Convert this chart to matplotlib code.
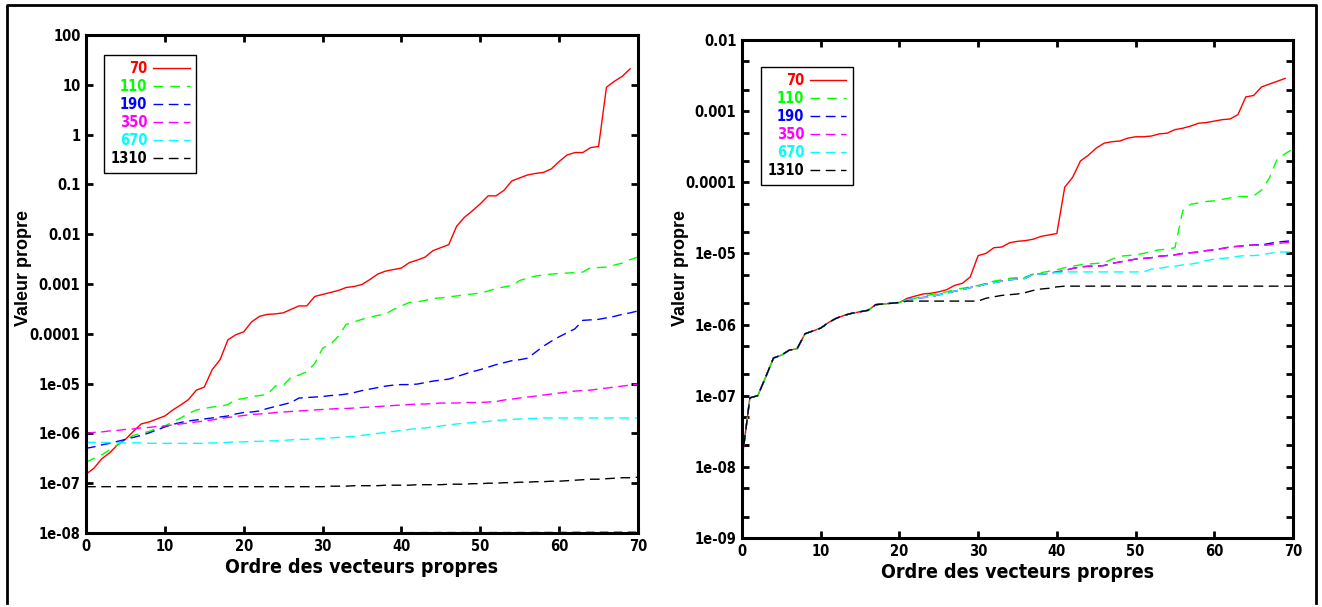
#!/usr/bin/env python3
"""Valeurs propres (échelle log) pour plusieurs tailles, deux panneaux."""

import numpy as np
import matplotlib
matplotlib.use('Agg')
import matplotlib.pyplot as plt
from matplotlib.ticker import LogLocator, NullLocator, FuncFormatter, MultipleLocator
from matplotlib.lines import Line2D
from matplotlib import font_manager

# --- données : log10 de la valeur propre ---
labels = ['70', '110', '190', '350', '670', '1310']
colors = ['#ff0000', '#00ff00', '#0000ff', '#ff00ff', '#00ffff', '#000000']

# panneau gauche
red_left = [-6.82, -6.70, -6.51, -6.39, -6.23, -6.12, -5.96, -5.81, -5.77, -5.71,
            -5.65, -5.53, -5.43, -5.32, -5.13, -5.07, -4.72, -4.52, -4.12, -4.02,
            -3.96, -3.76, -3.65, -3.61, -3.60, -3.58, -3.51, -3.44, -3.44, -3.25,
            -3.21, -3.17, -3.13, -3.07, -3.05, -3.01, -2.91, -2.80, -2.74, -2.71,
            -2.68, -2.57, -2.52, -2.46, -2.33, -2.27, -2.21, -1.84, -1.66, -1.53,
            -1.39, -1.23, -1.23, -1.12, -0.93, -0.87, -0.81, -0.78, -0.76, -0.69,
            -0.54, -0.41, -0.36, -0.36, -0.26, -0.24, 0.95, 1.07, 1.17, 1.32]
green_left = [-6.58, -6.50, -6.43, -6.33, -6.23, -6.13, -6.04, -6.00, -5.96, -5.90,
              -5.85, -5.77, -5.69, -5.60, -5.53, -5.50, -5.47, -5.46, -5.42, -5.32,
              -5.30, -5.26, -5.24, -5.22, -5.05, -5.04, -4.87, -4.83, -4.76, -4.60,
              -4.29, -4.21, -4.05, -3.81, -3.76, -3.71, -3.67, -3.63, -3.60, -3.51,
              -3.44, -3.37, -3.36, -3.33, -3.29, -3.28, -3.26, -3.24, -3.22, -3.20,
              -3.18, -3.14, -3.09, -3.06, -3.03, -2.93, -2.88, -2.84, -2.82, -2.80,
              -2.79, -2.78, -2.77, -2.76, -2.67, -2.67, -2.66, -2.62, -2.58, -2.51,
              -2.46]
blue_left = [-6.30, -6.27, -6.23, -6.20, -6.16, -6.12, -6.08, -6.04, -5.99, -5.93,
             -5.87, -5.82, -5.78, -5.75, -5.73, -5.71, -5.69, -5.67, -5.65, -5.61,
             -5.58, -5.57, -5.55, -5.50, -5.46, -5.42, -5.38, -5.29, -5.28, -5.27,
             -5.26, -5.24, -5.23, -5.21, -5.18, -5.14, -5.11, -5.08, -5.05, -5.03,
             -5.02, -5.02, -5.01, -4.98, -4.95, -4.93, -4.91, -4.86, -4.81, -4.76,
             -4.72, -4.67, -4.62, -4.58, -4.54, -4.52, -4.49, -4.37, -4.25, -4.15,
             -4.06, -3.98, -3.90, -3.73, -3.72, -3.71, -3.68, -3.65, -3.61, -3.58,
             -3.54]
magenta_left = [-6.00, -5.98, -5.97, -5.95, -5.94, -5.92, -5.91, -5.89, -5.88, -5.86,
                -5.85, -5.83, -5.81, -5.79, -5.77, -5.75, -5.73, -5.70, -5.68, -5.66,
                -5.64, -5.62, -5.61, -5.60, -5.58, -5.57, -5.56, -5.55, -5.54, -5.53,
                -5.52, -5.51, -5.50, -5.50, -5.49, -5.48, -5.47, -5.46, -5.45, -5.44,
                -5.43, -5.42, -5.41, -5.41, -5.40, -5.39, -5.39, -5.39, -5.38, -5.38,
                -5.38, -5.37, -5.36, -5.33, -5.31, -5.29, -5.27, -5.25, -5.23, -5.21,
                -5.19, -5.17, -5.15, -5.14, -5.13, -5.11, -5.09, -5.07, -5.05, -5.03,
                -5.01]
cyan_left = [-6.18, -6.18, -6.18, -6.19, -6.19, -6.19, -6.19, -6.19, -6.20, -6.20,
             -6.20, -6.20, -6.20, -6.20, -6.20, -6.20, -6.19, -6.19, -6.18, -6.17,
             -6.17, -6.16, -6.16, -6.15, -6.15, -6.14, -6.13, -6.12, -6.12, -6.11,
             -6.10, -6.09, -6.08, -6.07, -6.06, -6.04, -6.02, -6.00, -5.98, -5.96,
             -5.94, -5.92, -5.90, -5.89, -5.87, -5.85, -5.83, -5.81, -5.80, -5.78,
             -5.77, -5.76, -5.74, -5.73, -5.72, -5.71, -5.70, -5.70, -5.69, -5.69,
             -5.69, -5.69, -5.69, -5.69, -5.69, -5.69, -5.69, -5.69, -5.69, -5.69,
             -5.69]
black_left = [-7.07, -7.07, -7.07, -7.07, -7.07, -7.07, -7.07, -7.07, -7.07, -7.07,
              -7.07, -7.07, -7.07, -7.07, -7.07, -7.07, -7.07, -7.07, -7.07, -7.07,
              -7.07, -7.07, -7.07, -7.07, -7.07, -7.07, -7.07, -7.07, -7.07, -7.07,
              -7.07, -7.06, -7.06, -7.06, -7.05, -7.05, -7.05, -7.05, -7.04, -7.04,
              -7.04, -7.04, -7.03, -7.03, -7.03, -7.03, -7.02, -7.02, -7.02, -7.01,
              -7.01, -7.00, -7.00, -6.99, -6.99, -6.98, -6.98, -6.97, -6.97, -6.96,
              -6.96, -6.95, -6.94, -6.93, -6.92, -6.92, -6.91, -6.90, -6.89, -6.89,
              -6.88]
# trait gris au ras de l'axe du bas (sans légende)
grey_left_x = [37, 45, 55, 62, 70]
grey_left = [-7.995, -7.99, -7.99, -7.985, -7.98]

# panneau droit : début commun à toutes les courbes (x = 0..20)
common_right = [-7.90, -7.03, -7.00, -6.74, -6.47, -6.43, -6.36, -6.34, -6.13, -6.09,
                -6.05, -5.97, -5.91, -5.87, -5.84, -5.82, -5.80, -5.72, -5.71, -5.70,
                -5.69]
red_right = [-5.63, -5.60, -5.57, -5.56, -5.54, -5.51, -5.45, -5.42, -5.33, -5.03,
             -5.00, -4.92, -4.91, -4.85, -4.83, -4.82, -4.80, -4.76, -4.74, -4.72,
             -4.07, -3.93, -3.70, -3.62, -3.52, -3.45, -3.43, -3.42, -3.38, -3.36,
             -3.36, -3.35, -3.32, -3.31, -3.26, -3.24, -3.21, -3.17, -3.16, -3.14,
             -3.12, -3.11, -3.05, -2.80, -2.78, -2.66, -2.62, -2.58, -2.54]
green_right = [-5.65, -5.63, -5.60, -5.58, -5.56, -5.54, -5.51, -5.49, -5.47, -5.45,
               -5.42, -5.39, -5.37, -5.35, -5.34, -5.33, -5.29, -5.27, -5.25, -5.23,
               -5.20, -5.18, -5.16, -5.15, -5.14, -5.13, -5.08, -5.04, -5.03, -5.02,
               -5.00, -4.97, -4.95, -4.94, -4.92, -4.40, -4.31, -4.29, -4.27, -4.26,
               -4.24, -4.22, -4.20, -4.20, -4.19, -4.11, -3.94, -3.67, -3.60, -3.53]
blue_right = [-5.65, -5.63, -5.62, -5.61, -5.58, -5.56, -5.53, -5.51, -5.48, -5.46,
              -5.43, -5.41, -5.39, -5.37, -5.36, -5.35, -5.29, -5.29, -5.28, -5.26,
              -5.24, -5.21, -5.19, -5.18, -5.18, -5.17, -5.14, -5.12, -5.10, -5.08,
              -5.07, -5.06, -5.04, -5.03, -5.02, -5.00, -4.99, -4.98, -4.96, -4.95,
              -4.93, -4.91, -4.90, -4.89, -4.88, -4.88, -4.86, -4.84, -4.83, -4.82]
magenta_right = [-5.65, -5.63, -5.62, -5.61, -5.58, -5.56, -5.53, -5.51, -5.48, -5.46,
                 -5.43, -5.41, -5.39, -5.37, -5.36, -5.35, -5.29, -5.29, -5.28, -5.26,
                 -5.24, -5.21, -5.19, -5.18, -5.18, -5.17, -5.14, -5.12, -5.10, -5.08,
                 -5.07, -5.06, -5.04, -5.03, -5.02, -5.00, -4.99, -4.98, -4.96, -4.95,
                 -4.93, -4.91, -4.90, -4.89, -4.88, -4.89, -4.88, -4.86, -4.85, -4.84]
cyan_right = [-5.65, -5.63, -5.62, -5.61, -5.58, -5.56, -5.53, -5.51, -5.48, -5.46,
              -5.43, -5.41, -5.39, -5.37, -5.36, -5.35, -5.29, -5.29, -5.28, -5.27,
              -5.26, -5.26, -5.26, -5.26, -5.26, -5.26, -5.26, -5.26, -5.26, -5.26,
              -5.26, -5.22, -5.21, -5.19, -5.18, -5.16, -5.15, -5.13, -5.10, -5.08,
              -5.07, -5.06, -5.04, -5.03, -5.03, -5.02, -5.00, -4.98, -4.98, -4.98]
black_right = [-5.67, -5.67, -5.67, -5.67, -5.67, -5.67, -5.67, -5.67, -5.67, -5.67,
               -5.63, -5.61, -5.59, -5.58, -5.57, -5.55, -5.52, -5.50, -5.49, -5.47,
               -5.46, -5.46, -5.46, -5.46, -5.46, -5.46, -5.46, -5.46, -5.46, -5.46,
               -5.46, -5.46, -5.46, -5.46, -5.46, -5.46, -5.46, -5.46, -5.46, -5.46,
               -5.46, -5.46, -5.46, -5.46, -5.46, -5.46, -5.46, -5.46, -5.46, -5.46]

left_series = [red_left, green_left, blue_left, magenta_left, cyan_left, black_left]
right_series = [common_right + s for s in
                [red_right, green_right, blue_right, magenta_right, cyan_right, black_right]]

dashes = [None, (7, 5), (7, 4), (7, 4), (7, 4), (7, 4)]

# police étroite si disponible (sinon DejaVu Sans condensée)
installed = {f.name for f in font_manager.fontManager.ttflist}
if 'Liberation Sans Narrow' in installed:
    NARROW = dict(family=['Liberation Sans Narrow', 'DejaVu Sans'])
else:
    NARROW = dict(family=['DejaVu Sans'], stretch='condensed')
WIDE = ['Liberation Sans', 'DejaVu Sans']


def style_axes(ax, ylim, minor_subs, ylabel_pos):
    ax.set_yscale('log')
    ax.set_xlim(0, 70)
    ax.set_ylim(*ylim)
    ax.xaxis.set_major_locator(MultipleLocator(10))
    ax.yaxis.set_major_locator(LogLocator(base=10, subs=[1.0], numticks=20))
    if minor_subs:
        ax.yaxis.set_minor_locator(LogLocator(base=10, subs=minor_subs, numticks=20))
    else:
        ax.yaxis.set_minor_locator(NullLocator())
    ax.xaxis.set_minor_locator(NullLocator())
    ax.yaxis.set_major_formatter(FuncFormatter(lambda v, p: '%g' % v))
    ax.tick_params(which='both', direction='in', top=True, right=True,
                   length=5, width=2, pad=4, labelsize=10.5)
    for lab in ax.get_xticklabels() + ax.get_yticklabels():
        lab.set_family(NARROW['family'])
        if 'stretch' in NARROW:
            lab.set_stretch(NARROW['stretch'])
        lab.set_fontweight('bold')
    for sp in ax.spines.values():
        sp.set_linewidth(2.2)
    ax.set_xlabel('Ordre des vecteurs propres', fontweight='bold',
                  fontsize=14, labelpad=3, **NARROW)
    ax.set_ylabel('Valeur propre', family=WIDE, fontweight='bold', fontsize=13)
    ax.yaxis.set_label_coords(*ylabel_pos)


def draw_lines(ax, series):
    for lab, col, dash, vals in zip(labels, colors, dashes, series):
        x = np.arange(len(vals))
        ln, = ax.plot(x, 10.0 ** np.array(vals), color=col, lw=1.0, label=lab)
        if dash:
            ln.set_dashes(dash)


def add_legend(ax, anchor):
    prop = dict(weight='bold', size=10.5, **NARROW)
    leg = ax.legend(loc='upper left', bbox_to_anchor=anchor, borderaxespad=0,
                    markerfirst=False, labelcolor='linecolor', fancybox=False,
                    framealpha=1, edgecolor='black', handlelength=2.5,
                    handletextpad=0.4, labelspacing=0.2, borderpad=0.45,
                    prop=prop)
    leg.get_frame().set_linewidth(1.0)
    leg.get_texts()[-1].set_color('black')


fig = plt.figure(figsize=(13.22, 6.07), dpi=100)

ax1 = fig.add_axes([86 / 1322, 1 - 533 / 607, 552 / 1322, 498 / 607])
draw_lines(ax1, left_series)
ax1.plot(grey_left_x, 10.0 ** np.array(grey_left), color='#555555', lw=1.0,
         dashes=(6, 4))
style_axes(ax1, (1e-8, 100), None, (-0.097, 0.532))
add_legend(ax1, (0.033, 0.96))

ax2 = fig.add_axes([742 / 1322, 1 - 538 / 607, 551 / 1322, 498 / 607])
draw_lines(ax2, right_series)
style_axes(ax2, (1e-9, 1e-2), [2.0, 5.0], (-0.097, 0.542))
add_legend(ax2, (0.0345, 0.946))

# cadre autour de la figure : gauche, haut, droite
x0, x1, ytop, ybot = 7 / 1322, 1316 / 1322, 1 - 5 / 607, 4 / 607
fig.add_artist(Line2D([x0, x0, x1, x1], [ybot, ytop, ytop, ybot],
                      transform=fig.transFigure, color='black', lw=2.0))

fig.savefig('out.png', dpi=100)
plt.close(fig)
